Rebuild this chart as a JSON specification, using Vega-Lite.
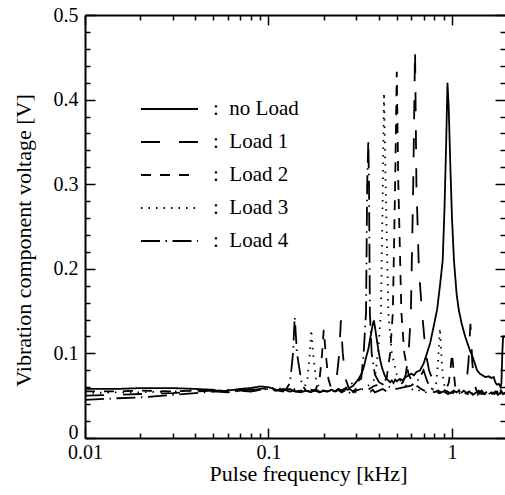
{
"$schema": "https://vega.github.io/schema/vega-lite/v6.json",
"width": 420, "height": 423,
"autosize": {"type": "none"},
"padding": {"left": 85, "top": 15, "right": 0, "bottom": 57},
"background": "white",
"config": {"view": {"stroke": null}, "font": "Times New Roman, Liberation Serif, DejaVu Serif, serif",
 "axis": {"labelFont": "Times New Roman, Liberation Serif, DejaVu Serif, serif", "titleFont": "Times New Roman, Liberation Serif, DejaVu Serif, serif", "labelColor": "black", "titleColor": "black", "tickColor": "black", "domainColor": "black", "grid": false, "labelFontSize": 20, "titleFontSize": 22, "titleFontWeight": "normal", "domainWidth": 2, "tickWidth": 1.5, "labelOverlap": false, "labelFlush": false},
 "legend": {"labelFont": "Times New Roman, Liberation Serif, DejaVu Serif, serif", "labelFontSize": 21, "labelColor": "black"}},
"data": {"values": [
{"s":"no Load","f":0.01,"v":0.058},{"s":"no Load","f":0.015,"v":0.058},{"s":"no Load","f":0.02,"v":0.059},{"s":"no Load","f":0.03,"v":0.059},{"s":"no Load","f":0.04,"v":0.058},{"s":"no Load","f":0.05,"v":0.057},{"s":"no Load","f":0.055,"v":0.055},{"s":"no Load","f":0.06,"v":0.056},{"s":"no Load","f":0.07,"v":0.058},{"s":"no Load","f":0.08,"v":0.059},{"s":"no Load","f":0.09,"v":0.061},{"s":"no Load","f":0.1,"v":0.06},{"s":"no Load","f":0.11,"v":0.057},{"s":"no Load","f":0.12,"v":0.056},{"s":"no Load","f":0.13,"v":0.058},{"s":"no Load","f":0.14,"v":0.055},{"s":"no Load","f":0.15,"v":0.054},{"s":"no Load","f":0.16,"v":0.056},{"s":"no Load","f":0.17,"v":0.055},{"s":"no Load","f":0.18,"v":0.057},{"s":"no Load","f":0.19,"v":0.054},{"s":"no Load","f":0.2,"v":0.056},{"s":"no Load","f":0.21,"v":0.055},{"s":"no Load","f":0.22,"v":0.057},{"s":"no Load","f":0.23,"v":0.055},{"s":"no Load","f":0.24,"v":0.057},{"s":"no Load","f":0.25,"v":0.056},{"s":"no Load","f":0.26,"v":0.058},{"s":"no Load","f":0.27,"v":0.057},{"s":"no Load","f":0.28,"v":0.06},{"s":"no Load","f":0.29,"v":0.062},{"s":"no Load","f":0.3,"v":0.066},{"s":"no Load","f":0.31,"v":0.07},{"s":"no Load","f":0.32,"v":0.075},{"s":"no Load","f":0.33,"v":0.083},{"s":"no Load","f":0.34,"v":0.095},{"s":"no Load","f":0.35,"v":0.105},{"s":"no Load","f":0.36,"v":0.12},{"s":"no Load","f":0.37,"v":0.134},{"s":"no Load","f":0.375,"v":0.139},{"s":"no Load","f":0.38,"v":0.132},{"s":"no Load","f":0.39,"v":0.115},{"s":"no Load","f":0.4,"v":0.1},{"s":"no Load","f":0.41,"v":0.088},{"s":"no Load","f":0.42,"v":0.08},{"s":"no Load","f":0.43,"v":0.074},{"s":"no Load","f":0.44,"v":0.07},{"s":"no Load","f":0.45,"v":0.068},{"s":"no Load","f":0.46,"v":0.066},{"s":"no Load","f":0.47,"v":0.068},{"s":"no Load","f":0.48,"v":0.065},{"s":"no Load","f":0.49,"v":0.069},{"s":"no Load","f":0.5,"v":0.067},{"s":"no Load","f":0.52,"v":0.07},{"s":"no Load","f":0.54,"v":0.068},{"s":"no Load","f":0.56,"v":0.072},{"s":"no Load","f":0.58,"v":0.074},{"s":"no Load","f":0.6,"v":0.076},{"s":"no Load","f":0.62,"v":0.074},{"s":"no Load","f":0.64,"v":0.078},{"s":"no Load","f":0.67,"v":0.08},{"s":"no Load","f":0.7,"v":0.088},{"s":"no Load","f":0.73,"v":0.1},{"s":"no Load","f":0.76,"v":0.112},{"s":"no Load","f":0.8,"v":0.135},{"s":"no Load","f":0.83,"v":0.152},{"s":"no Load","f":0.86,"v":0.18},{"s":"no Load","f":0.89,"v":0.21},{"s":"no Load","f":0.91,"v":0.27},{"s":"no Load","f":0.93,"v":0.35},{"s":"no Load","f":0.945,"v":0.42},{"s":"no Load","f":0.96,"v":0.39},{"s":"no Load","f":0.98,"v":0.32},{"s":"no Load","f":1.0,"v":0.26},{"s":"no Load","f":1.025,"v":0.21},{"s":"no Load","f":1.06,"v":0.17},{"s":"no Load","f":1.09,"v":0.151},{"s":"no Load","f":1.13,"v":0.135},{"s":"no Load","f":1.18,"v":0.12},{"s":"no Load","f":1.25,"v":0.104},{"s":"no Load","f":1.3,"v":0.095},{"s":"no Load","f":1.37,"v":0.08},{"s":"no Load","f":1.42,"v":0.076},{"s":"no Load","f":1.47,"v":0.074},{"s":"no Load","f":1.52,"v":0.072},{"s":"no Load","f":1.58,"v":0.073},{"s":"no Load","f":1.64,"v":0.071},{"s":"no Load","f":1.69,"v":0.072},{"s":"no Load","f":1.72,"v":0.066},{"s":"no Load","f":1.76,"v":0.063},{"s":"no Load","f":1.8,"v":0.064},{"s":"no Load","f":1.84,"v":0.06},{"s":"no Load","f":1.86,"v":0.065},{"s":"no Load","f":1.88,"v":0.1},{"s":"no Load","f":1.9,"v":0.12},{"s":"no Load","f":1.945,"v":0.12},
{"s":"Load 1","f":0.01,"v":0.05},{"s":"Load 1","f":0.015,"v":0.051},{"s":"Load 1","f":0.02,"v":0.052},{"s":"Load 1","f":0.03,"v":0.053},{"s":"Load 1","f":0.04,"v":0.055},{"s":"Load 1","f":0.05,"v":0.056},{"s":"Load 1","f":0.06,"v":0.054},{"s":"Load 1","f":0.07,"v":0.056},{"s":"Load 1","f":0.08,"v":0.057},{"s":"Load 1","f":0.09,"v":0.058},{"s":"Load 1","f":0.1,"v":0.058},{"s":"Load 1","f":0.11,"v":0.056},{"s":"Load 1","f":0.12,"v":0.058},{"s":"Load 1","f":0.13,"v":0.055},{"s":"Load 1","f":0.14,"v":0.056},{"s":"Load 1","f":0.15,"v":0.054},{"s":"Load 1","f":0.16,"v":0.057},{"s":"Load 1","f":0.17,"v":0.055},{"s":"Load 1","f":0.18,"v":0.056},{"s":"Load 1","f":0.19,"v":0.054},{"s":"Load 1","f":0.2,"v":0.056},{"s":"Load 1","f":0.21,"v":0.055},{"s":"Load 1","f":0.22,"v":0.057},{"s":"Load 1","f":0.235,"v":0.07},{"s":"Load 1","f":0.243,"v":0.1},{"s":"Load 1","f":0.248,"v":0.139},{"s":"Load 1","f":0.254,"v":0.1},{"s":"Load 1","f":0.263,"v":0.07},{"s":"Load 1","f":0.275,"v":0.058},{"s":"Load 1","f":0.29,"v":0.055},{"s":"Load 1","f":0.3,"v":0.058},{"s":"Load 1","f":0.31,"v":0.056},{"s":"Load 1","f":0.32,"v":0.054},{"s":"Load 1","f":0.33,"v":0.057},{"s":"Load 1","f":0.34,"v":0.055},{"s":"Load 1","f":0.35,"v":0.058},{"s":"Load 1","f":0.36,"v":0.055},{"s":"Load 1","f":0.37,"v":0.057},{"s":"Load 1","f":0.38,"v":0.054},{"s":"Load 1","f":0.4,"v":0.056},{"s":"Load 1","f":0.42,"v":0.058},{"s":"Load 1","f":0.44,"v":0.055},{"s":"Load 1","f":0.46,"v":0.057},{"s":"Load 1","f":0.48,"v":0.06},{"s":"Load 1","f":0.5,"v":0.058},{"s":"Load 1","f":0.52,"v":0.062},{"s":"Load 1","f":0.54,"v":0.066},{"s":"Load 1","f":0.56,"v":0.075},{"s":"Load 1","f":0.58,"v":0.1},{"s":"Load 1","f":0.597,"v":0.148},{"s":"Load 1","f":0.615,"v":0.3},{"s":"Load 1","f":0.629,"v":0.46},{"s":"Load 1","f":0.64,"v":0.3},{"s":"Load 1","f":0.66,"v":0.2},{"s":"Load 1","f":0.687,"v":0.148},{"s":"Load 1","f":0.72,"v":0.1},{"s":"Load 1","f":0.75,"v":0.08},{"s":"Load 1","f":0.78,"v":0.07},{"s":"Load 1","f":0.82,"v":0.063},{"s":"Load 1","f":0.86,"v":0.06},{"s":"Load 1","f":0.9,"v":0.057},{"s":"Load 1","f":0.94,"v":0.055},{"s":"Load 1","f":0.98,"v":0.053},{"s":"Load 1","f":1.02,"v":0.056},{"s":"Load 1","f":1.06,"v":0.054},{"s":"Load 1","f":1.1,"v":0.057},{"s":"Load 1","f":1.15,"v":0.058},{"s":"Load 1","f":1.2,"v":0.065},{"s":"Load 1","f":1.23,"v":0.09},{"s":"Load 1","f":1.26,"v":0.135},{"s":"Load 1","f":1.29,"v":0.09},{"s":"Load 1","f":1.32,"v":0.065},{"s":"Load 1","f":1.36,"v":0.056},{"s":"Load 1","f":1.4,"v":0.053},{"s":"Load 1","f":1.45,"v":0.056},{"s":"Load 1","f":1.5,"v":0.052},{"s":"Load 1","f":1.55,"v":0.055},{"s":"Load 1","f":1.6,"v":0.053},{"s":"Load 1","f":1.65,"v":0.056},{"s":"Load 1","f":1.7,"v":0.052},{"s":"Load 1","f":1.75,"v":0.055},{"s":"Load 1","f":1.8,"v":0.053},{"s":"Load 1","f":1.85,"v":0.056},{"s":"Load 1","f":1.9,"v":0.052},{"s":"Load 1","f":1.945,"v":0.054},
{"s":"Load 2","f":0.01,"v":0.055},{"s":"Load 2","f":0.015,"v":0.055},{"s":"Load 2","f":0.02,"v":0.056},{"s":"Load 2","f":0.03,"v":0.055},{"s":"Load 2","f":0.04,"v":0.056},{"s":"Load 2","f":0.05,"v":0.057},{"s":"Load 2","f":0.06,"v":0.055},{"s":"Load 2","f":0.07,"v":0.057},{"s":"Load 2","f":0.08,"v":0.056},{"s":"Load 2","f":0.09,"v":0.058},{"s":"Load 2","f":0.1,"v":0.059},{"s":"Load 2","f":0.11,"v":0.057},{"s":"Load 2","f":0.12,"v":0.055},{"s":"Load 2","f":0.13,"v":0.057},{"s":"Load 2","f":0.14,"v":0.055},{"s":"Load 2","f":0.15,"v":0.056},{"s":"Load 2","f":0.16,"v":0.054},{"s":"Load 2","f":0.17,"v":0.057},{"s":"Load 2","f":0.18,"v":0.056},{"s":"Load 2","f":0.19,"v":0.07},{"s":"Load 2","f":0.196,"v":0.1},{"s":"Load 2","f":0.2,"v":0.128},{"s":"Load 2","f":0.205,"v":0.1},{"s":"Load 2","f":0.212,"v":0.07},{"s":"Load 2","f":0.22,"v":0.058},{"s":"Load 2","f":0.23,"v":0.055},{"s":"Load 2","f":0.24,"v":0.057},{"s":"Load 2","f":0.25,"v":0.054},{"s":"Load 2","f":0.26,"v":0.056},{"s":"Load 2","f":0.27,"v":0.055},{"s":"Load 2","f":0.28,"v":0.058},{"s":"Load 2","f":0.29,"v":0.054},{"s":"Load 2","f":0.3,"v":0.056},{"s":"Load 2","f":0.32,"v":0.058},{"s":"Load 2","f":0.34,"v":0.055},{"s":"Load 2","f":0.36,"v":0.059},{"s":"Load 2","f":0.38,"v":0.062},{"s":"Load 2","f":0.4,"v":0.063},{"s":"Load 2","f":0.42,"v":0.066},{"s":"Load 2","f":0.44,"v":0.07},{"s":"Load 2","f":0.46,"v":0.1},{"s":"Load 2","f":0.476,"v":0.148},{"s":"Load 2","f":0.49,"v":0.3},{"s":"Load 2","f":0.5,"v":0.433},{"s":"Load 2","f":0.51,"v":0.3},{"s":"Load 2","f":0.53,"v":0.148},{"s":"Load 2","f":0.55,"v":0.1},{"s":"Load 2","f":0.58,"v":0.075},{"s":"Load 2","f":0.61,"v":0.066},{"s":"Load 2","f":0.64,"v":0.062},{"s":"Load 2","f":0.68,"v":0.058},{"s":"Load 2","f":0.72,"v":0.055},{"s":"Load 2","f":0.76,"v":0.057},{"s":"Load 2","f":0.8,"v":0.054},{"s":"Load 2","f":0.84,"v":0.056},{"s":"Load 2","f":0.88,"v":0.053},{"s":"Load 2","f":0.92,"v":0.056},{"s":"Load 2","f":0.96,"v":0.065},{"s":"Load 2","f":0.98,"v":0.08},{"s":"Load 2","f":1.0,"v":0.1},{"s":"Load 2","f":1.02,"v":0.08},{"s":"Load 2","f":1.04,"v":0.062},{"s":"Load 2","f":1.08,"v":0.055},{"s":"Load 2","f":1.12,"v":0.053},{"s":"Load 2","f":1.16,"v":0.056},{"s":"Load 2","f":1.22,"v":0.052},{"s":"Load 2","f":1.28,"v":0.055},{"s":"Load 2","f":1.34,"v":0.053},{"s":"Load 2","f":1.4,"v":0.056},{"s":"Load 2","f":1.46,"v":0.052},{"s":"Load 2","f":1.52,"v":0.055},{"s":"Load 2","f":1.58,"v":0.051},{"s":"Load 2","f":1.64,"v":0.054},{"s":"Load 2","f":1.7,"v":0.052},{"s":"Load 2","f":1.76,"v":0.055},{"s":"Load 2","f":1.82,"v":0.051},{"s":"Load 2","f":1.88,"v":0.054},{"s":"Load 2","f":1.945,"v":0.052},
{"s":"Load 3","f":0.01,"v":0.053},{"s":"Load 3","f":0.015,"v":0.054},{"s":"Load 3","f":0.02,"v":0.054},{"s":"Load 3","f":0.03,"v":0.055},{"s":"Load 3","f":0.04,"v":0.056},{"s":"Load 3","f":0.05,"v":0.055},{"s":"Load 3","f":0.06,"v":0.057},{"s":"Load 3","f":0.07,"v":0.056},{"s":"Load 3","f":0.08,"v":0.058},{"s":"Load 3","f":0.09,"v":0.057},{"s":"Load 3","f":0.1,"v":0.058},{"s":"Load 3","f":0.11,"v":0.06},{"s":"Load 3","f":0.12,"v":0.057},{"s":"Load 3","f":0.13,"v":0.056},{"s":"Load 3","f":0.14,"v":0.058},{"s":"Load 3","f":0.15,"v":0.056},{"s":"Load 3","f":0.155,"v":0.056},{"s":"Load 3","f":0.163,"v":0.07},{"s":"Load 3","f":0.168,"v":0.1},{"s":"Load 3","f":0.171,"v":0.128},{"s":"Load 3","f":0.175,"v":0.1},{"s":"Load 3","f":0.182,"v":0.068},{"s":"Load 3","f":0.19,"v":0.058},{"s":"Load 3","f":0.2,"v":0.056},{"s":"Load 3","f":0.21,"v":0.054},{"s":"Load 3","f":0.22,"v":0.057},{"s":"Load 3","f":0.23,"v":0.055},{"s":"Load 3","f":0.24,"v":0.056},{"s":"Load 3","f":0.25,"v":0.054},{"s":"Load 3","f":0.26,"v":0.057},{"s":"Load 3","f":0.27,"v":0.055},{"s":"Load 3","f":0.28,"v":0.053},{"s":"Load 3","f":0.29,"v":0.056},{"s":"Load 3","f":0.3,"v":0.054},{"s":"Load 3","f":0.32,"v":0.057},{"s":"Load 3","f":0.34,"v":0.06},{"s":"Load 3","f":0.36,"v":0.064},{"s":"Load 3","f":0.38,"v":0.07},{"s":"Load 3","f":0.395,"v":0.1},{"s":"Load 3","f":0.41,"v":0.148},{"s":"Load 3","f":0.42,"v":0.3},{"s":"Load 3","f":0.426,"v":0.408},{"s":"Load 3","f":0.435,"v":0.3},{"s":"Load 3","f":0.45,"v":0.148},{"s":"Load 3","f":0.47,"v":0.1},{"s":"Load 3","f":0.5,"v":0.075},{"s":"Load 3","f":0.53,"v":0.066},{"s":"Load 3","f":0.56,"v":0.062},{"s":"Load 3","f":0.6,"v":0.058},{"s":"Load 3","f":0.64,"v":0.055},{"s":"Load 3","f":0.68,"v":0.057},{"s":"Load 3","f":0.72,"v":0.054},{"s":"Load 3","f":0.76,"v":0.056},{"s":"Load 3","f":0.8,"v":0.058},{"s":"Load 3","f":0.82,"v":0.065},{"s":"Load 3","f":0.84,"v":0.09},{"s":"Load 3","f":0.86,"v":0.13},{"s":"Load 3","f":0.88,"v":0.09},{"s":"Load 3","f":0.9,"v":0.065},{"s":"Load 3","f":0.93,"v":0.056},{"s":"Load 3","f":0.97,"v":0.053},{"s":"Load 3","f":1.0,"v":0.055},{"s":"Load 3","f":1.05,"v":0.052},{"s":"Load 3","f":1.1,"v":0.055},{"s":"Load 3","f":1.15,"v":0.051},{"s":"Load 3","f":1.2,"v":0.054},{"s":"Load 3","f":1.26,"v":0.052},{"s":"Load 3","f":1.32,"v":0.055},{"s":"Load 3","f":1.38,"v":0.051},{"s":"Load 3","f":1.44,"v":0.054},{"s":"Load 3","f":1.5,"v":0.052},{"s":"Load 3","f":1.56,"v":0.055},{"s":"Load 3","f":1.62,"v":0.051},{"s":"Load 3","f":1.68,"v":0.054},{"s":"Load 3","f":1.74,"v":0.052},{"s":"Load 3","f":1.8,"v":0.055},{"s":"Load 3","f":1.86,"v":0.051},{"s":"Load 3","f":1.945,"v":0.053},
{"s":"Load 4","f":0.01,"v":0.045},{"s":"Load 4","f":0.015,"v":0.047},{"s":"Load 4","f":0.02,"v":0.048},{"s":"Load 4","f":0.03,"v":0.051},{"s":"Load 4","f":0.04,"v":0.053},{"s":"Load 4","f":0.05,"v":0.055},{"s":"Load 4","f":0.06,"v":0.054},{"s":"Load 4","f":0.07,"v":0.056},{"s":"Load 4","f":0.08,"v":0.055},{"s":"Load 4","f":0.09,"v":0.057},{"s":"Load 4","f":0.1,"v":0.058},{"s":"Load 4","f":0.11,"v":0.056},{"s":"Load 4","f":0.12,"v":0.057},{"s":"Load 4","f":0.125,"v":0.058},{"s":"Load 4","f":0.131,"v":0.065},{"s":"Load 4","f":0.136,"v":0.1},{"s":"Load 4","f":0.139,"v":0.143},{"s":"Load 4","f":0.143,"v":0.1},{"s":"Load 4","f":0.152,"v":0.063},{"s":"Load 4","f":0.16,"v":0.056},{"s":"Load 4","f":0.17,"v":0.054},{"s":"Load 4","f":0.18,"v":0.057},{"s":"Load 4","f":0.19,"v":0.055},{"s":"Load 4","f":0.2,"v":0.056},{"s":"Load 4","f":0.21,"v":0.054},{"s":"Load 4","f":0.22,"v":0.057},{"s":"Load 4","f":0.23,"v":0.055},{"s":"Load 4","f":0.24,"v":0.058},{"s":"Load 4","f":0.25,"v":0.056},{"s":"Load 4","f":0.26,"v":0.058},{"s":"Load 4","f":0.27,"v":0.061},{"s":"Load 4","f":0.28,"v":0.064},{"s":"Load 4","f":0.3,"v":0.066},{"s":"Load 4","f":0.32,"v":0.07},{"s":"Load 4","f":0.33,"v":0.1},{"s":"Load 4","f":0.34,"v":0.148},{"s":"Load 4","f":0.345,"v":0.3},{"s":"Load 4","f":0.35,"v":0.352},{"s":"Load 4","f":0.353,"v":0.3},{"s":"Load 4","f":0.357,"v":0.148},{"s":"Load 4","f":0.365,"v":0.1},{"s":"Load 4","f":0.38,"v":0.075},{"s":"Load 4","f":0.4,"v":0.066},{"s":"Load 4","f":0.43,"v":0.062},{"s":"Load 4","f":0.46,"v":0.06},{"s":"Load 4","f":0.5,"v":0.058},{"s":"Load 4","f":0.55,"v":0.06},{"s":"Load 4","f":0.6,"v":0.062},{"s":"Load 4","f":0.64,"v":0.066},{"s":"Load 4","f":0.67,"v":0.072},{"s":"Load 4","f":0.7,"v":0.08},{"s":"Load 4","f":0.73,"v":0.068},{"s":"Load 4","f":0.76,"v":0.06},{"s":"Load 4","f":0.8,"v":0.056},{"s":"Load 4","f":0.85,"v":0.053},{"s":"Load 4","f":0.9,"v":0.055},{"s":"Load 4","f":0.95,"v":0.052},{"s":"Load 4","f":1.0,"v":0.054},{"s":"Load 4","f":1.06,"v":0.051},{"s":"Load 4","f":1.12,"v":0.054},{"s":"Load 4","f":1.18,"v":0.052},{"s":"Load 4","f":1.24,"v":0.055},{"s":"Load 4","f":1.3,"v":0.051},{"s":"Load 4","f":1.36,"v":0.054},{"s":"Load 4","f":1.42,"v":0.052},{"s":"Load 4","f":1.48,"v":0.055},{"s":"Load 4","f":1.54,"v":0.051},{"s":"Load 4","f":1.6,"v":0.054},{"s":"Load 4","f":1.66,"v":0.052},{"s":"Load 4","f":1.72,"v":0.055},{"s":"Load 4","f":1.78,"v":0.051},{"s":"Load 4","f":1.84,"v":0.054},{"s":"Load 4","f":1.9,"v":0.052},{"s":"Load 4","f":1.945,"v":0.053}
]},
"layer": [
 {"mark": {"type": "line", "color": "black", "strokeWidth": 1.8, "clip": true},
  "encoding": {
   "x": {"field": "f", "type": "quantitative", "scale": {"type": "log", "domain": [0.01, 1.945], "nice": false},
     "axis": {"orient": "bottom", "values": [0.01,0.02,0.03,0.04,0.05,0.06,0.07,0.08,0.09,0.1,0.2,0.3,0.4,0.5,0.6,0.7,0.8,0.9,1],
       "labelExpr": "datum.value == 0.01 ? '0.01' : datum.value == 0.1 ? '0.1' : datum.value == 1 ? '1' : ''",
       "tickSize": {"condition": {"test": "datum.value == 0.01 || datum.value == 0.1 || datum.value == 1", "value": -10}, "value": -5},
       "labelPadding": 14, "title": "Pulse frequency [kHz]", "titlePadding": -4, "titleX": 223}},
   "y": {"field": "v", "type": "quantitative", "scale": {"domain": [0, 0.5], "nice": false},
     "axis": {"orient": "left", "values": [0,0.02,0.04,0.06,0.08,0.1,0.12,0.14,0.16,0.18,0.2,0.22,0.24,0.26,0.28,0.3,0.32,0.34,0.36,0.38,0.4,0.42,0.44,0.46,0.48,0.5],
       "labelExpr": "datum.value == 0 ? '0' : (abs(datum.value * 10 - round(datum.value * 10)) < 0.000001 ? format(datum.value, '.1f') : '')",
       "tickSize": {"condition": {"test": "abs(datum.value * 10 - round(datum.value * 10)) < 0.000001", "value": -10}, "value": -5},
       "labelOffset": {"condition": {"test": "datum.value == 0", "value": -6}, "value": 0},
       "labelPadding": 17, "title": "Vibration component voltage [V]", "titlePadding": 18, "titleY": 225}},
   "strokeDash": {"field": "s", "type": "nominal",
     "scale": {"domain": ["no Load", "Load 1", "Load 2", "Load 3", "Load 4"], "range": [[1, 0], [19, 19], [10, 9], [1.5, 6], [19, 5.5, 1.5, 5.5]]},
     "legend": {"orient": "none", "legendX": 55, "legendY": 77.5, "title": null, "padding": 0, "offset": 0,
       "symbolType": "stroke", "symbolSize": 3249, "symbolStrokeWidth": 2, "symbolStrokeColor": "black",
       "clipHeight": 33, "rowPadding": 0, "labelOffset": 14, "labelBaseline": "middle",
       "labelFont": "Times New Roman, Liberation Serif, DejaVu Serif, serif", "labelFontSize": 21, "labelColor": "black",
       "labelExpr": "':\u00a0\u00a0' + datum.label"}}
  }},
 {"mark": {"type": "line", "opacity": 0},
  "encoding": {
   "x": {"field": "f", "type": "quantitative", "scale": {"type": "log", "domain": [0.01, 1.945], "nice": false},
     "axis": {"orient": "top", "values": [0.01,0.02,0.03,0.04,0.05,0.06,0.07,0.08,0.09,0.1,0.2,0.3,0.4,0.5,0.6,0.7,0.8,0.9,1],
       "labels": false, "title": null,
       "tickSize": {"condition": {"test": "datum.value == 0.01 || datum.value == 0.1 || datum.value == 1", "value": -10}, "value": -5}}},
   "y": {"field": "v", "type": "quantitative", "scale": {"domain": [0, 0.5], "nice": false},
     "axis": {"orient": "right", "values": [0,0.02,0.04,0.06,0.08,0.1,0.12,0.14,0.16,0.18,0.2,0.22,0.24,0.26,0.28,0.3,0.32,0.34,0.36,0.38,0.4,0.42,0.44,0.46,0.48,0.5],
       "labels": false, "title": null, "domain": false,
       "tickSize": {"condition": {"test": "abs(datum.value * 10 - round(datum.value * 10)) < 0.000001", "value": -10}, "value": -5}}},
   "detail": {"field": "s", "type": "nominal"}
  }}
],
"resolve": {"axis": {"x": "independent", "y": "independent"}}
}
